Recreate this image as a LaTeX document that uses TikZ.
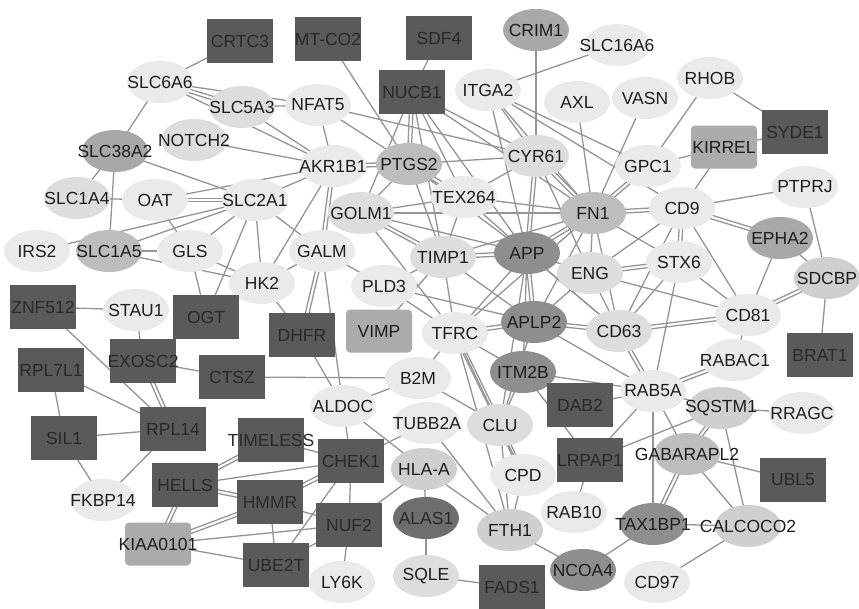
\documentclass[tikz,border=0pt]{standalone}
\usepackage{fontspec}
\setmainfont{Liberation Sans}
\usetikzlibrary{shapes.geometric,calc}
\pgfdeclarelayer{bg}
\pgfsetlayers{bg,main}
\definecolor{cA}{HTML}{EAEAEA}
\definecolor{cB}{HTML}{DDDDDD}
\definecolor{cC}{HTML}{CFCFCF}
\definecolor{cD}{HTML}{BDBDBD}
\definecolor{cE}{HTML}{A8A8A8}
\definecolor{cF}{HTML}{8E8E8E}
\definecolor{cG}{HTML}{6E6E6E}
\definecolor{rdk}{HTML}{5A5A5A}
\definecolor{rlt}{HTML}{ABABAB}
\definecolor{lnc}{HTML}{949494}
\definecolor{txc}{HTML}{1E1E1E}
\definecolor{trc}{HTML}{2A2A2A}
\tikzset{
  ell/.style={ellipse, minimum width=66pt, minimum height=42pt, inner sep=0pt, draw=none},
  rdbox/.style={rectangle, minimum width=66pt, minimum height=44pt, inner sep=0pt, fill=rdk},
  rlbox/.style={rectangle, rounded corners=4pt, minimum width=66pt, minimum height=43pt, inner sep=0pt, fill=rlt},
  lbl/.style={font=\fontsize{17.5}{20}\selectfont, text=txc, inner sep=0pt},
  lbd/.style={font=\fontsize{17.5}{20}\selectfont, text=trc, inner sep=0pt},
  lnk/.style={draw=lnc, line width=1.3pt}
}
\newcommand\gE[4]{\node[ell, fill=#4, label={[lbl]center:#3}] (#1) at (#2) {};}
\newcommand\gR[3]{\node[rdbox, label={[lbd]center:#3}] (#1) at (#2) {};}
\newcommand\gQ[3]{\node[rlbox, label={[lbl]center:#3}] (#1) at (#2) {};}
\newcommand\gS[2]{\draw[lnk] (#1.center) -- (#2.center);}
\newcommand\gD[2]{\draw[lnk] ($(#1)!1.8pt!90:(#2)$) -- ($(#2)!1.8pt!-90:(#1)$);
  \draw[lnk] ($(#1)!1.8pt!-90:(#2)$) -- ($(#2)!1.8pt!90:(#1)$);}
\begin{document}
\begin{tikzpicture}[x=1pt,y=-1pt]
\useasboundingbox (0,0) rectangle (859,608);
% ellipses
\gE{SLC6A6}{160,82}{SLC6A6}{cA}
\gE{SLC5A3}{242,107}{SLC5A3}{cB}
\gE{NFAT5}{318,105}{NFAT5}{cA}
\gE{NOTCH2}{194,140}{NOTCH2}{cB}
\gE{SLC38A2}{115,151}{SLC38A2}{cE}
\gE{AKR1B1}{333,166}{AKR1B1}{cA}
\gE{PTGS2}{409,164}{PTGS2}{cD}
\gE{SLC1A4}{77,198}{SLC1A4}{cB}
\gE{OAT}{155,200}{OAT}{cA}
\gE{SLC2A1}{255,200}{SLC2A1}{cA}
\gE{GOLM1}{361,213}{GOLM1}{cB}
\gE{TEX264}{464,197}{TEX264}{cA}
\gE{IRS2}{37,251}{IRS2}{cA}
\gE{SLC1A5}{109,251}{SLC1A5}{cD}
\gE{GLS}{190,251}{GLS}{cA}
\gE{HK2}{262,283}{HK2}{cA}
\gE{GALM}{322,251}{GALM}{cA}
\gE{PLD3}{384,286}{PLD3}{cA}
\gE{TIMP1}{443,257}{TIMP1}{cB}
\gE{APP}{527,253}{APP}{cF}
\gE{CRIM1}{536,30}{CRIM1}{cE}
\gE{ITGA2}{488,90}{ITGA2}{cA}
\gE{CYR61}{536,156}{CYR61}{cB}
\gE{SLC16A6}{617,45}{SLC16A6}{cA}
\gE{AXL}{577,102}{AXL}{cA}
\gE{VASN}{645,98}{VASN}{cA}
\gE{RHOB}{710,78}{RHOB}{cA}
\gE{GPC1}{648,166}{GPC1}{cA}
\gE{PTPRJ}{805,187}{PTPRJ}{cA}
\gE{FN1}{593,213}{FN1}{cD}
\gE{CD9}{682,208}{CD9}{cA}
\gE{EPHA2}{780,238}{EPHA2}{cE}
\gE{STX6}{679,262}{STX6}{cA}
\gE{ENG}{590,273}{ENG}{cB}
\gE{SDCBP}{827,278}{SDCBP}{cC}
\gE{STAU1}{136,310}{STAU1}{cA}
\gE{FKBP14}{103,500}{FKBP14}{cA}
\gE{TFRC}{455,333}{TFRC}{cA}
\gE{APLP2}{534,322}{APLP2}{cF}
\gE{CD63}{619,331}{CD63}{cB}
\gE{CD81}{748,315}{CD81}{cA}
\gE{RABAC1}{735,360}{RABAC1}{cA}
\gE{B2M}{418,378}{B2M}{cA}
\gE{ITM2B}{523,372}{ITM2B}{cF}
\gE{ALDOC}{343,406}{ALDOC}{cA}
\gE{TUBB2A}{427,423}{TUBB2A}{cA}
\gE{CLU}{500,425}{CLU}{cB}
\gE{RAB5A}{653,391}{RAB5A}{cA}
\gE{SQSTM1}{721,408}{SQSTM1}{cC}
\gE{RRAGC}{802,413}{RRAGC}{cA}
\gE{GABARAPL2}{687,454}{GABARAPL2}{cD}
\gE{HLAA}{424,469}{HLA-A}{cC}
\gE{CPD}{523,475}{CPD}{cA}
\node[ell, fill=cG, label={[lbd]center:ALAS1}] (ALAS1) at (426,518) {};
\gE{FTH1}{510,530}{FTH1}{cC}
\gE{RAB10}{574,512}{RAB10}{cA}
\gE{TAX1BP1}{653,524}{TAX1BP1}{cF}
\gE{CALCOCO2}{748,526}{CALCOCO2}{cC}
\gE{NCOA4}{583,570}{NCOA4}{cF}
\gE{SQLE}{426,576}{SQLE}{cB}
\gE{LY6K}{342,582}{LY6K}{cA}
\gE{CD97}{657,582}{CD97}{cA}
% dark boxes
\gR{CRTC3}{240,41}{CRTC3}
\gR{MTCO2}{328,39}{MT-CO2}
\gR{SDF4}{439,38}{SDF4}
\gR{NUCB1}{412,92}{NUCB1}
\gR{SYDE1}{795,132}{SYDE1}
\gR{ZNF512}{43,307}{ZNF512}
\gR{OGT}{206,317}{OGT}
\gR{DHFR}{302,335}{DHFR}
\gR{EXOSC2}{143,361}{EXOSC2}
\gR{CTSZ}{232,377}{CTSZ}
\gR{RPL7L1}{51,370}{RPL7L1}
\gR{SIL1}{64,438}{SIL1}
\gR{RPL14}{173,429}{RPL14}
\gR{TIMELESS}{271,440}{TIMELESS}
\gR{HELLS}{185,485}{HELLS}
\gR{HMMR}{270,502}{HMMR}
\gR{CHEK1}{351,461}{CHEK1}
\gR{NUF2}{349,525}{NUF2}
\gR{UBE2T}{276,565}{UBE2T}
\gR{DAB2}{580,405}{DAB2}
\gR{LRPAP1}{590,460}{LRPAP1}
\gR{FADS1}{512,587}{FADS1}
\gR{UBL5}{793,480}{UBL5}
\gR{BRAT1}{820,355}{BRAT1}
% light boxes
\gQ{KIRREL}{724,147}{KIRREL}
\gQ{VIMP}{379,331}{VIMP}
\gQ{KIAA0101}{158,544}{KIAA0101}
\begin{pgfonlayer}{bg}
\fill[white] (0,0) rectangle (859,608);
\foreach \a/\b in {CRTC3/SLC6A6,SLC6A6/SLC38A2,SLC6A6/NFAT5,SLC6A6/AKR1B1,SLC5A3/NFAT5,SLC5A3/AKR1B1,
 NOTCH2/AKR1B1,SLC38A2/SLC2A1,SLC38A2/SLC1A4,SLC38A2/SLC1A5,SLC1A4/OAT,OAT/AKR1B1,SLC2A1/AKR1B1,
 IRS2/SLC2A1,SLC1A5/SLC2A1,SLC1A5/GLS,SLC1A5/HK2,OAT/GLS,GLS/HK2,GLS/OGT,SLC2A1/GLS,SLC2A1/HK2,
 SLC2A1/OGT,SLC2A1/GALM,HK2/AKR1B1,HK2/GALM,HK2/DHFR,NFAT5/AKR1B1,NFAT5/PTGS2,NFAT5/CYR61,
 MTCO2/PTGS2,SDF4/NUCB1,NUCB1/TEX264,NUCB1/CYR61,NUCB1/FN1,NUCB1/TIMP1,NUCB1/APP,NUCB1/GOLM1,
 CRIM1/CYR61,SLC16A6/ITGA2,ITGA2/CYR61,ITGA2/FN1,ITGA2/APP,ITGA2/CD9,ITGA2/GPC1,AXL/FN1,VASN/FN1,
 RHOB/GPC1,RHOB/SYDE1,SYDE1/KIRREL,KIRREL/GPC1,KIRREL/CD9,CD9/PTPRJ,PTPRJ/SDCBP,CD9/ENG,CD9/CD81,
 CD9/CD63,EPHA2/SDCBP,EPHA2/CD81,SDCBP/BRAT1,FN1/ENG,FN1/STX6,FN1/TEX264,FN1/TIMP1,FN1/GOLM1,
 FN1/CD63,STX6/CD63,STX6/RAB5A,STX6/CD81,ENG/CD81,ENG/CD63,ENG/APP,CD63/APP,CD81/RABAC1,
 RAB5A/SQSTM1,RAB5A/DAB2,RAB5A/LRPAP1,RAB5A/GABARAPL2,RAB5A/TAX1BP1,RAB5A/APLP2,RAB5A/ITM2B,
 SQSTM1/RRAGC,SQSTM1/LRPAP1,SQSTM1/CALCOCO2,GABARAPL2/UBL5,GABARAPL2/CALCOCO2,TAX1BP1/CALCOCO2,
 TAX1BP1/NCOA4,CALCOCO2/CD97,NCOA4/FTH1,LRPAP1/RAB10,FTH1/CPD,FTH1/CLU,FTH1/TUBB2A,
 FTH1/HLAA,FTH1/TFRC,CLU/B2M,CLU/APLP2,CLU/APP,CLU/ITM2B,ITM2B/APP,ITM2B/TFRC,ITM2B/LRPAP1,TFRC/APP,
 TFRC/B2M,TFRC/TIMP1,TFRC/PLD3,TFRC/CPD,TFRC/FN1,B2M/CTSZ,B2M/ALDOC,ALDOC/HLAA,TUBB2A/CHEK1,HLAA/NUF2,
 ALAS1/SQLE,ALAS1/HLAA,SQLE/FADS1,CHEK1/ALDOC,CHEK1/TIMELESS,CHEK1/HELLS,CHEK1/NUF2,CHEK1/UBE2T,
 NUF2/LY6K,NUF2/HMMR,NUF2/KIAA0101,NUF2/UBE2T,HMMR/UBE2T,KIAA0101/UBE2T,RPL14/RPL7L1,RPL14/SIL1,
 RPL14/FKBP14,RPL14/ZNF512,ZNF512/STAU1,STAU1/EXOSC2,EXOSC2/CTSZ,RPL7L1/SIL1,SIL1/FKBP14,
 GALM/PLD3,GALM/ALDOC,DHFR/ALDOC,PTGS2/GOLM1,GOLM1/TEX264,GOLM1/APP,GOLM1/TFRC,TEX264/APP,
 TEX264/CYR61,TEX264/TIMP1,PTGS2/TIMP1,PTGS2/APP,PTGS2/CYR61,TIMP1/PLD3,TIMP1/APLP2,APP/CD63,
 CYR61/ENG,PLD3/APLP2,APLP2/ENG,APLP2/FN1,VIMP/TIMP1}
 {\gS{\a}{\b}}
\foreach \a/\b in {SLC6A6/SLC5A3,OAT/SLC2A1,AKR1B1/PTGS2,AKR1B1/GALM,NUCB1/PTGS2,GPC1/FN1,CD9/EPHA2,
 CD9/FN1,CD9/STX6,STX6/ENG,SDCBP/CD81,CD63/CD81,CD63/RAB5A,CD63/APLP2,RABAC1/RAB5A,SQSTM1/GABARAPL2,
 GABARAPL2/TAX1BP1,APLP2/APP,APLP2/TFRC,TFRC/CLU,TIMP1/APP,GOLM1/TIMP1,CYR61/FN1,CYR61/APP,FN1/APP,
 GALM/DHFR,CHEK1/HMMR,HMMR/HELLS,HMMR/KIAA0101,TIMELESS/HELLS,HELLS/KIAA0101,EXOSC2/RPL14,CLU/CPD,
 TEX264/PTGS2}
 {\gD{\a}{\b}}
\end{pgfonlayer}
\end{tikzpicture}
\end{document}
